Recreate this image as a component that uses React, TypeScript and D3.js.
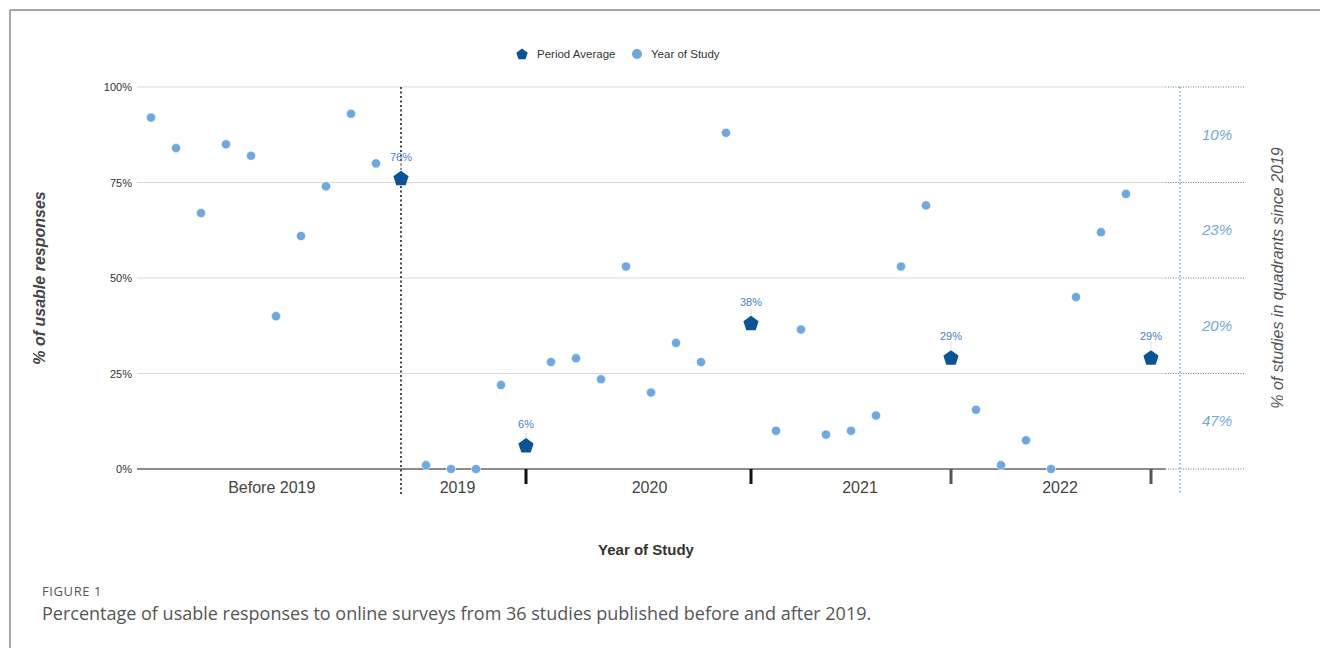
import React from "react";
import * as d3 from "d3";

// ---- data ----
const periodLabels = ["Before 2019", "2019", "2020", "2021", "2022"];
const before2019 = [92, 84, 67, 85, 82, 40, 61, 74, 93, 80];
const study2019 = [1, 0, 0, 22];
const study2020 = [28, 29, 23.5, 53, 20, 33, 28, 88];
const study2021 = [10, 36.5, 9, 10, 14, 53, 69];
const study2022 = [15.5, 1, 7.5, 0, 45, 62, 72];
const periodAverages = [76, 6, 38, 29, 29];
const yTicks = [0, 25, 50, 75, 100];
const quadrantShares = ["10%", "23%", "20%", "47%"]; // 75-100, 50-75, 25-50, 0-25
const quadrantMids = [87.5, 62.5, 37.5, 12.5];

const studyGroups = [before2019, study2019, study2020, study2021, study2022];

type Slot = { id: string; period: number; kind: "study" | "avg"; value: number };
const slots: Slot[] = [];
studyGroups.forEach((g, p) => {
  g.forEach((v, i) => slots.push({ id: `${p}-${i}`, period: p, kind: "study", value: v }));
  slots.push({ id: `${p}-avg`, period: p, kind: "avg", value: periodAverages[p] });
});

// ---- layout ----
const W = 1320;
const H = 648;
const plotLeft = 138.5;
const plotRight = 1163.5;
const yTop = 87;
const yBottom = 469;
const labelShift = [2, -6, 11, 9, 9];

const x = d3.scaleBand<string>().domain(slots.map((s) => s.id)).range([plotLeft, plotRight]);
const y = d3.scaleLinear().domain([0, 100]).range([yBottom, yTop]);
const cx = (id: string) => (x(id) as number) + x.bandwidth() / 2;

const pentagon = (r: number) => {
  const pts = d3.range(5).map((i) => {
    const a = -Math.PI / 2 + (i * 2 * Math.PI) / 5;
    return [r * Math.cos(a), r * Math.sin(a)] as [number, number];
  });
  return d3.line()(pts.concat([pts[0]])) + "Z";
};

const chartFont = "Arial, 'Liberation Sans', Helvetica, sans-serif";
const captionFont = "'Open Sans', 'Noto Sans', sans-serif";

export default function App() {
  const avgSlots = slots.filter((s) => s.kind === "avg");
  const studySlots = slots.filter((s) => s.kind === "study");
  const firstAvg = avgSlots[0];

  const boundaries = [plotLeft, ...avgSlots.map((s) => cx(s.id))];

  return (
    <svg
      width={W}
      height={H}
      viewBox={`0 0 ${W} ${H}`}
      style={{ position: "absolute", left: 0, top: 0, background: "#fff" }}
      fontFamily={chartFont}
    >
      {/* frame */}
      <line x1={10} x2={W} y1={10} y2={10} stroke="#888" strokeWidth={1.5} />
      <line x1={10} x2={10} y1={10} y2={H} stroke="#888" strokeWidth={1.5} />

      {/* legend */}
      <g fontSize={11.5} fill="#333">
        <path d={pentagon(6)} transform="translate(522,54.5)" fill="#0b5394" />
        <text x={537} y={58}>Period Average</text>
        <circle cx={637} cy={54} r={5} fill="#6fa8dc" />
        <text x={651} y={58}>Year of Study</text>
      </g>

      {/* gridlines */}
      {yTicks.map((t) => (
        <line
          key={`g${t}`}
          x1={137}
          x2={plotRight + 2}
          y1={y(t)}
          y2={y(t)}
          stroke={t === 0 ? "#666" : "#d9d9d9"}
          strokeWidth={t === 0 ? 1.5 : 1.2}
        />
      ))}
      {yTicks.map((t) => (
        <line
          key={`r${t}`}
          x1={plotRight + 2}
          x2={1245}
          y1={y(t)}
          y2={y(t)}
          stroke="#777"
          strokeWidth={1}
          strokeDasharray="1,1.5"
        />
      ))}
      <line x1={1180} x2={1180} y1={yTop} y2={495} stroke="#6fa8dc" strokeWidth={1.5} strokeDasharray="1.5,2.5" />

      {/* y tick labels */}
      {yTicks.map((t) => (
        <text key={`t${t}`} x={132} y={y(t) + 4} textAnchor="end" fontSize={11} fill="#333">
          {`${t}%`}
        </text>
      ))}

      {/* quadrant shares */}
      {quadrantShares.map((s, i) => (
        <text
          key={`q${i}`}
          x={1217}
          y={y(quadrantMids[i]) + 5}
          textAnchor="middle"
          fontSize={15}
          fontStyle="italic"
          fill="#6fa8dc"
        >
          {s}
        </text>
      ))}

      {/* x ticks */}
      {avgSlots.slice(1).map((s, i) => (
        <line
          key={`xt${s.id}`}
          x1={cx(s.id)}
          x2={cx(s.id)}
          y1={yBottom}
          y2={484}
          stroke={i < 2 ? "#111" : "#555"}
          strokeWidth={3}
        />
      ))}

      {/* period labels */}
      {periodLabels.map((l, i) => (
        <text
          key={`pl${i}`}
          x={(boundaries[i] + boundaries[i + 1]) / 2 + labelShift[i]}
          y={493}
          textAnchor="middle"
          fontSize={16}
          fill="#444"
        >
          {l}
        </text>
      ))}

      {/* dotted separator */}
      <line
        x1={cx(firstAvg.id)}
        x2={cx(firstAvg.id)}
        y1={yTop}
        y2={495}
        stroke="#111"
        strokeWidth={1.5}
        strokeDasharray="2,2.5"
      />

      {/* study points */}
      {studySlots.map((s) => (
        <circle key={s.id} cx={cx(s.id)} cy={y(s.value)} r={4.6} fill="#6fa8dc" stroke="#fff" strokeWidth={0.6} />
      ))}

      {/* averages */}
      {avgSlots.map((s) => (
        <g key={s.id} transform={`translate(${cx(s.id)},${y(s.value)})`}>
          <line x1={0} x2={0} y1={-16} y2={-8} stroke="#ddd" strokeWidth={1} />
          <path d={pentagon(8)} fill="#0b5394" />
          <text y={-18} textAnchor="middle" fontSize={11} fill="#4a7fc1" fontWeight={500}>
            {`${Math.round(s.value)}%`}
          </text>
        </g>
      ))}

      {/* axis titles */}
      <text
        transform={`translate(45,${(yTop + yBottom) / 2}) rotate(-90)`}
        textAnchor="middle"
        fontSize={16}
        fontWeight="bold"
        fontStyle="italic"
        fill="#444"
      >
        % of usable responses
      </text>
      <text
        transform={`translate(1283,${(yTop + yBottom) / 2}) rotate(-90)`}
        textAnchor="middle"
        fontSize={16}
        fontStyle="italic"
        fill="#555"
      >
        % of studies in quadrants since 2019
      </text>
      <text x={646} y={555} textAnchor="middle" fontSize={15} fontWeight="bold" fill="#333">
        Year of Study
      </text>

      {/* caption */}
      <text x={42} y={596} fontSize={13} letterSpacing={0.6} fill="#555" fontFamily={captionFont}>
        FIGURE 1
      </text>
      <text x={42} y={620} fontSize={18} fill="#555" fontFamily={captionFont}>
        Percentage of usable responses to online surveys from 36 studies published before and after 2019.
      </text>
    </svg>
  );
}
